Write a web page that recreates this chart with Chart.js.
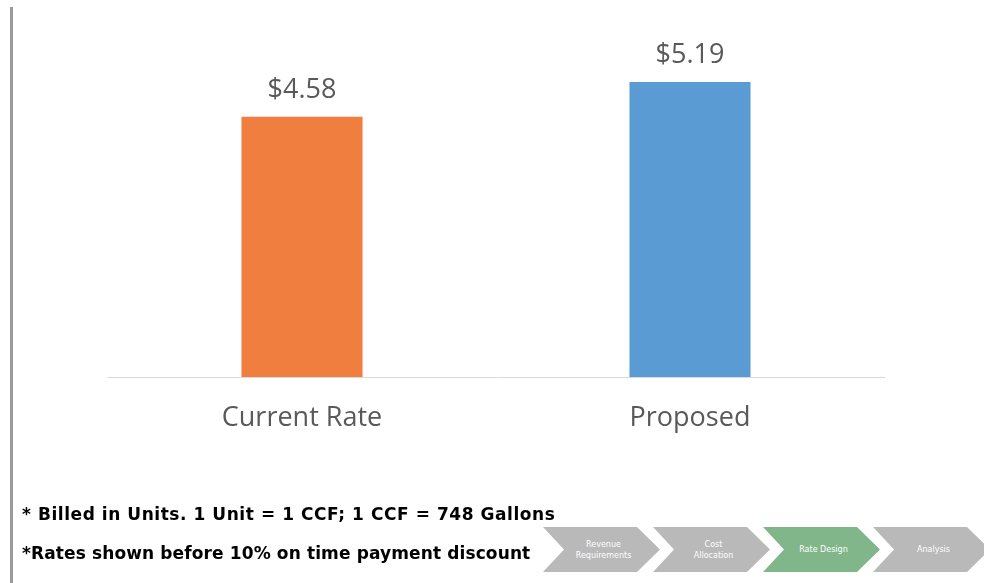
<!DOCTYPE html>
<html>
<head>
<meta charset="utf-8">
<script src="https://cdn.jsdelivr.net/npm/chart.js@4/dist/chart.umd.min.js"></script>
<style>
  html, body { margin:0; padding:0; background:#fff; }
  #wrap { position:relative; width:984px; height:583px; overflow:hidden; background:#fff; }
  #c { position:absolute; left:0; top:0; }
  .vline { position:absolute; left:10px; top:7px; width:3px; height:576px; background:#9a9a9a; }
  .note { position:absolute; left:22px; font-family:"DejaVu Sans", sans-serif; font-weight:bold; font-size:17px; color:#000; white-space:nowrap; line-height:20px; }
  .chev { position:absolute; top:527px; width:117px; height:45px; color:#fff; font-family:"DejaVu Sans", sans-serif; font-size:8px; display:flex; align-items:center; justify-content:center; text-align:center; line-height:11px;
    clip-path: polygon(0 0, 94px 0, 117px 50%, 94px 100%, 0 100%, 21px 50%); }
  .chev span { position:relative; left:2px; }
</style>
</head>
<body>
<div id="wrap">
  <canvas id="c" width="984" height="583"></canvas>
  <div class="vline"></div>
  <div class="note" style="top:504px; letter-spacing:0.55px;">* Billed in Units. 1 Unit = 1 CCF; 1 CCF = 748 Gallons</div>
  <div class="note" style="top:543px; letter-spacing:0.12px;">*Rates shown before 10% on time payment discount</div>
  <div id="chevrons"></div>
</div>
<script>
const categories = ["Current Rate", "Proposed"];
const rateValues = [4.58, 5.19];
const barColors = ["#F07E3F", "#5A9BD3"];
const processSteps = [["Revenue", "Requirements"], ["Cost", "Allocation"], ["Rate Design"], ["Analysis"]];
const activeStep = 2;

const chevWrap = document.getElementById('chevrons');
processSteps.forEach((lines, i) => {
  const d = document.createElement('div');
  d.className = 'chev';
  d.style.left = (543 + 110 * i) + 'px';
  d.style.background = i === activeStep ? '#80B68A' : '#B9B9B9';
  const s = document.createElement('span');
  s.innerHTML = lines.join('<br>');
  d.appendChild(s);
  chevWrap.appendChild(d);
});

const valueLabels = {
  id: 'valueLabels',
  afterDatasetsDraw(chart) {
    const ctx = chart.ctx;
    const meta = chart.getDatasetMeta(0);
    ctx.save();
    ctx.font = '27px "Open Sans", sans-serif';
    ctx.fillStyle = '#595959';
    ctx.textAlign = 'center';
    ctx.textBaseline = 'alphabetic';
    meta.data.forEach((bar, i) => {
      ctx.fillText('$' + rateValues[i].toFixed(2), bar.x, bar.y - 19);
    });
    ctx.restore();
  }
};

new Chart(document.getElementById('c'), {
  type: 'bar',
  data: {
    labels: categories,
    datasets: [{
      data: rateValues,
      backgroundColor: barColors,
      borderWidth: 0,
      categoryPercentage: 0.312,
      barPercentage: 1.0
    }]
  },
  options: {
    responsive: false,
    animation: false,
    devicePixelRatio: 1,
    layout: { padding: { left: 108, right: 100, top: 36, bottom: 0 } },
    plugins: { legend: { display: false }, tooltip: { enabled: false } },
    scales: {
      x: {
        grid: { display: false, drawTicks: false },
        border: { display: true, color: '#D9D9D9', width: 1 },
        ticks: { color: '#595959', font: { family: '"Open Sans", sans-serif', size: 27 }, padding: 25 },
        afterFit(scale) { scale.height = 206; }
      },
      y: { display: false, min: 0, max: 6 }
    }
  },
  plugins: [valueLabels]
});
</script>
</body>
</html>
